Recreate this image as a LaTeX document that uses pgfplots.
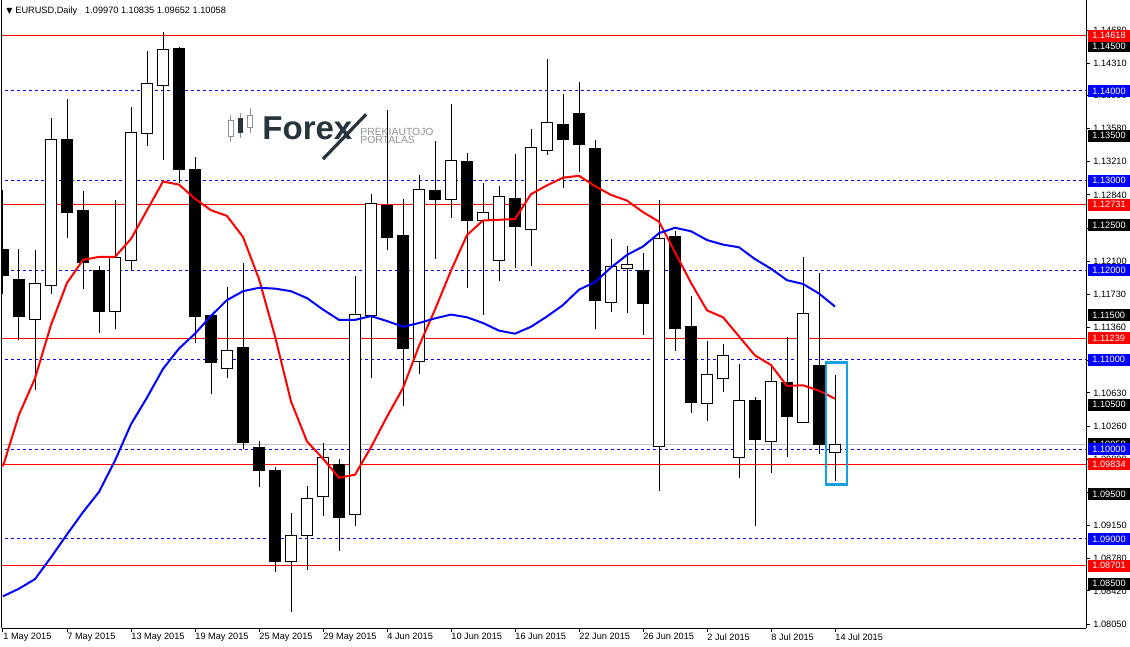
\documentclass[border=0pt]{standalone}
\usepackage{fontspec}
\setmainfont{Liberation Sans}
\newfontfamily\dejavu{DejaVu Sans}
\usepackage{pgfplots}
\usepackage{pgfplotstable}
\pgfplotsset{compat=1.18}

\definecolor{mtred}{RGB}{255,0,0}
\definecolor{mtblue}{RGB}{0,0,255}
\definecolor{bidgray}{RGB}{192,192,192}
\definecolor{boxblue}{RGB}{20,160,225}
\definecolor{logodark}{RGB}{38,52,62}
\definecolor{logogray}{RGB}{140,148,152}
\newcommand\mtfont{\fontsize{4.6}{5}\selectfont}

% daily candles: index, open, high, low, close
\pgfplotstableread{
i o h l c
0 1.12225 1.12891 1.11739 1.11944
1 1.11901 1.12238 1.11218 1.11483
2 1.11445 1.12225 1.10664 1.11846
3 1.11833 1.13693 1.11739 1.13458
4 1.13458 1.13906 1.12362 1.12643
5 1.12669 1.12882 1.11790 1.12089
6 1.11999 1.12050 1.11304 1.11538
7 1.11538 1.12784 1.11338 1.12136
8 1.12110 1.13821 1.12000 1.13539
9 1.13526 1.14444 1.13390 1.14085
10 1.14064 1.14653 1.13224 1.14465
11 1.14469 1.14490 1.12976 1.13121
12 1.13125 1.13258 1.11184 1.11483
13 1.11496 1.11510 1.10613 1.10971
14 1.10907 1.11816 1.10792 1.11107
15 1.11133 1.12080 1.10003 1.10079
16 1.10024 1.10096 1.09576 1.09768
17 1.09759 1.09802 1.08629 1.08744
18 1.08744 1.09290 1.08189 1.09034
19 1.09034 1.09589 1.08659 1.09456
20 1.09469 1.10067 1.09256 1.09913
21 1.09832 1.09887 1.08863 1.09243
22 1.09277 1.11935 1.09149 1.11509
23 1.11491 1.12852 1.10792 1.12746
24 1.12720 1.13787 1.12221 1.12362
25 1.12383 1.12797 1.10485 1.11120
26 1.10975 1.13061 1.10843 1.12904
27 1.12891 1.13437 1.12127 1.12788
28 1.12793 1.13855 1.12584 1.13228
29 1.13215 1.13309 1.11803 1.12554
30 1.12554 1.12968 1.11504 1.12648
31 1.12110 1.12942 1.11880 1.12823
32 1.12805 1.13300 1.12025 1.12485
33 1.12456 1.13578 1.12050 1.13369
34 1.13339 1.14354 1.13288 1.13650
35 1.13629 1.13966 1.12912 1.13458
36 1.13753 1.14098 1.13096 1.13403
37 1.13360 1.13458 1.11338 1.11662
38 1.11641 1.12345 1.11530 1.12046
39 1.12020 1.12272 1.11526 1.12059
40 1.12000 1.12191 1.11278 1.11628
41 1.10037 1.12780 1.09533 1.12358
42 1.12370 1.12434 1.11103 1.11346
43 1.11368 1.11713 1.10408 1.10523
44 1.10514 1.11214 1.10314 1.10830
45 1.10792 1.11180 1.10643 1.11052
46 1.09904 1.10954 1.09683 1.10549
47 1.10549 1.10587 1.09149 1.10113
48 1.10084 1.10920 1.09734 1.10762
49 1.10741 1.11257 1.09913 1.10369
50 1.10305 1.12148 1.10293 1.11521
51 1.10941 1.11969 1.09947 1.10050
52 1.09970 1.10835 1.09652 1.10058
}\candles

% moving averages: fast (red), slow (blue)
\pgfplotstableread{
i r b
0 1.09811 1.08360
1 1.10387 1.08445
2 1.10792 1.08552
3 1.11389 1.08795
4 1.11858 1.09051
5 1.12114 1.09299
6 1.12148 1.09525
7 1.12148 1.09875
8 1.12349 1.10280
9 1.12669 1.10578
10 1.12989 1.10898
11 1.12955 1.11125
12 1.12797 1.11291
13 1.12669 1.11490
14 1.12605 1.11666
15 1.12370 1.11765
16 1.11901 1.11803
17 1.11261 1.11794
18 1.10536 1.11765
19 1.10088 1.11688
20 1.09896 1.11560
21 1.09683 1.11445
22 1.09717 1.11445
23 1.10024 1.11487
24 1.10365 1.11432
25 1.10685 1.11368
26 1.11154 1.11410
27 1.11560 1.11462
28 1.11995 1.11504
29 1.12392 1.11474
30 1.12554 1.11410
31 1.12562 1.11325
32 1.12571 1.11291
33 1.12848 1.11368
34 1.12946 1.11483
35 1.13032 1.11611
36 1.13053 1.11782
37 1.12938 1.11867
38 1.12840 1.12029
39 1.12776 1.12170
40 1.12648 1.12264
41 1.12541 1.12413
42 1.12200 1.12473
43 1.11858 1.12434
44 1.11551 1.12336
45 1.11474 1.12285
46 1.11261 1.12255
47 1.11048 1.12123
48 1.10941 1.12016
49 1.10707 1.11888
50 1.10715 1.11846
51 1.10655 1.11739
52 1.10566 1.11594
}\mavg

% price box on the right scale
\newcommand\plabel[3]{\node[fill=#1, text=white, font=\mtfont, anchor=west,
  inner xsep=2pt, inner ysep=0pt, minimum height=6pt, text width=17pt,
  align=left] at ([xshift=1pt]axis cs:67.6875,#2) {#3};}

\begin{document}
\begin{tikzpicture}
\begin{axis}[
  scale only axis, width=542pt, height=314pt,
  xmin=-0.0625, xmax=67.6875, ymin=1.08006, ymax=1.15015,
  axis x line*=bottom, axis y line*=right,
  axis line style={-, line width=0.5pt, black},
  tick align=outside, major tick length=2pt,
  tick style={black, line width=0.5pt},
  xtick={0,4,...,52},
  xticklabels={1 May 2015, 7 May 2015, 13 May 2015, 19 May 2015, 25 May 2015,
    29 May 2015, 4 Jun 2015, 10 Jun 2015, 16 Jun 2015, 22 Jun 2015,
    26 Jun 2015, 2 Jul 2015, 8 Jul 2015, 14 Jul 2015},
  xticklabel style={font=\mtfont, anchor=north west, inner sep=0pt, yshift=-0.5pt},
  ytick={1.14680,1.14310,1.13950,1.13580,1.13210,1.12840,1.12470,1.12100,
    1.11730,1.11360,1.10990,1.10630,1.10260,1.09890,1.09520,1.09150,
    1.08780,1.08420,1.08050},
  yticklabels={},
  yticklabel style={opacity=0},
  clip mode=individual,
]
\coordinate (SW) at (rel axis cs:0,0);
\coordinate (NE) at (rel axis cs:1,1);
\draw[black, line width=0.5pt] (rel axis cs:0,0) -- (rel axis cs:0,1);

% watermark
\node[anchor=base west, inner sep=0pt, text=logodark,
  font=\fontsize{16.5}{16.5}\selectfont\bfseries] at (axis cs:16.19,1.13463) {Forex};
\draw[logodark, line width=1.6pt] (axis cs:20.0,1.13240) -- (axis cs:22.7,1.13740);
\node[anchor=base west, inner sep=0pt, text=logogray,
  font=\fontsize{5.2}{5.2}\selectfont] at (axis cs:22.31,1.13508) {PREKIAUTOJO};
\node[anchor=base west, inner sep=0pt, text=logogray,
  font=\fontsize{5.2}{5.2}\selectfont] at (axis cs:22.31,1.13419) {PORTALAS};
\draw[logogray, line width=0.5pt] (axis cs:14.23,1.13731) -- (axis cs:14.23,1.13430);
\draw[logogray, fill=white, line width=0.5pt] (axis cs:14.07,1.13489) rectangle (axis cs:14.39,1.13668);
\draw[logogray, line width=0.5pt] (axis cs:14.86,1.13754) -- (axis cs:14.86,1.13475);
\fill[logodark] (axis cs:14.70,1.13530) rectangle (axis cs:15.02,1.13698);
\draw[logogray, line width=0.5pt] (axis cs:15.44,1.13810) -- (axis cs:15.44,1.13530);
\draw[logogray, fill=white, line width=0.5pt] (axis cs:15.28,1.13597) rectangle (axis cs:15.60,1.13731);

% level lines
\pgfplotsinvokeforeach{1.14618,1.12731,1.11239,1.09834,1.08701}{
  \addplot[mtred, line width=0.55pt, forget plot] coordinates {(-1,#1) (70,#1)};
}
\pgfplotsinvokeforeach{1.14,1.13,1.12,1.11,1.10,1.09}{
  \addplot[mtblue, line width=0.5pt, dash pattern=on 1.6pt off 1.4pt, forget plot]
    coordinates {(-1,#1) (70,#1)};
}
\addplot[bidgray, line width=0.5pt, forget plot] coordinates {(-1,1.10058) (70,1.10058)};

% candles
\pgfplotsforeachungrouped \k in {0,...,52}{
  \pgfplotstablegetelem{\k}{o}\of\candles \let\co\pgfplotsretval
  \pgfplotstablegetelem{\k}{h}\of\candles \let\ch\pgfplotsretval
  \pgfplotstablegetelem{\k}{l}\of\candles \let\cl\pgfplotsretval
  \pgfplotstablegetelem{\k}{c}\of\candles \let\cc\pgfplotsretval
  \ifdim\cc pt<\co pt \def\cfill{black}\else\def\cfill{white}\fi
  \pgfmathsetmacro\xa{\k-0.33}
  \pgfmathsetmacro\xb{\k+0.33}
  \edef\temp{\noexpand\addplot[black, line width=0.5pt, forget plot]
      coordinates {(\k,\cl) (\k,\ch)};
    \noexpand\addplot[draw=black, fill=\cfill, line width=0.5pt, forget plot]
      coordinates {(\xa,\co) (\xb,\co) (\xb,\cc) (\xa,\cc) (\xa,\co) (\xb,\co)};}
  \temp
}

% moving averages
\addplot[mtred, line width=1pt] table[x=i, y=r] {\mavg};
\addplot[mtblue, line width=1pt] table[x=i, y=b] {\mavg};

% highlight of the last bar
\addplot[boxblue, line width=1.4pt] coordinates {(51.44,1.09606) (52.75,1.09606)
  (52.75,1.10971) (51.44,1.10971) (51.44,1.09606) (52.75,1.09606)};

% title
\node[anchor=west, inner sep=0pt, font=\dejavu\fontsize{4}{4}\selectfont]
  at ([xshift=2pt, yshift=-5.5pt]rel axis cs:0,1) {▼};
\node[anchor=west, inner sep=0pt, font=\mtfont]
  at ([xshift=6.5pt, yshift=-5.5pt]rel axis cs:0,1)
  {EURUSD,Daily\hspace{4pt}1.09970 1.10835 1.09652 1.10058};

% right scale labels
\pgfplotsinvokeforeach{1.14680,1.14310,1.13950,1.13580,1.13210,1.12840,1.12470,
  1.12100,1.11730,1.11360,1.10990,1.10630,1.10260,1.09890,1.09520,1.09150,
  1.08780,1.08420,1.08050}{
  \node[font=\mtfont, anchor=west, inner sep=0pt]
    at ([xshift=3.5pt]axis cs:67.6875,#1) {#1};
}
\plabel{black}{1.14500}{1.14500}
\plabel{black}{1.13500}{1.13500}
\plabel{black}{1.12500}{1.12500}
\plabel{black}{1.11500}{1.11500}
\plabel{black}{1.10500}{1.10500}
\plabel{black}{1.10058}{1.10058}
\plabel{black}{1.09500}{1.09500}
\plabel{black}{1.08500}{1.08500}
\plabel{mtred}{1.14618}{1.14618}
\plabel{mtred}{1.12731}{1.12731}
\plabel{mtred}{1.11239}{1.11239}
\plabel{mtred}{1.09834}{1.09834}
\plabel{mtred}{1.08701}{1.08701}
\plabel{mtblue}{1.14}{1.14000}
\plabel{mtblue}{1.13}{1.13000}
\plabel{mtblue}{1.12}{1.12000}
\plabel{mtblue}{1.11}{1.11000}
\plabel{mtblue}{1.10}{1.10000}
\plabel{mtblue}{1.09}{1.09000}
\end{axis}
\pgfresetboundingbox
\path[use as bounding box] ([shift={(-1pt,-9pt)}]SW) rectangle ([shift={(22pt,0pt)}]NE);
\end{tikzpicture}
\end{document}
